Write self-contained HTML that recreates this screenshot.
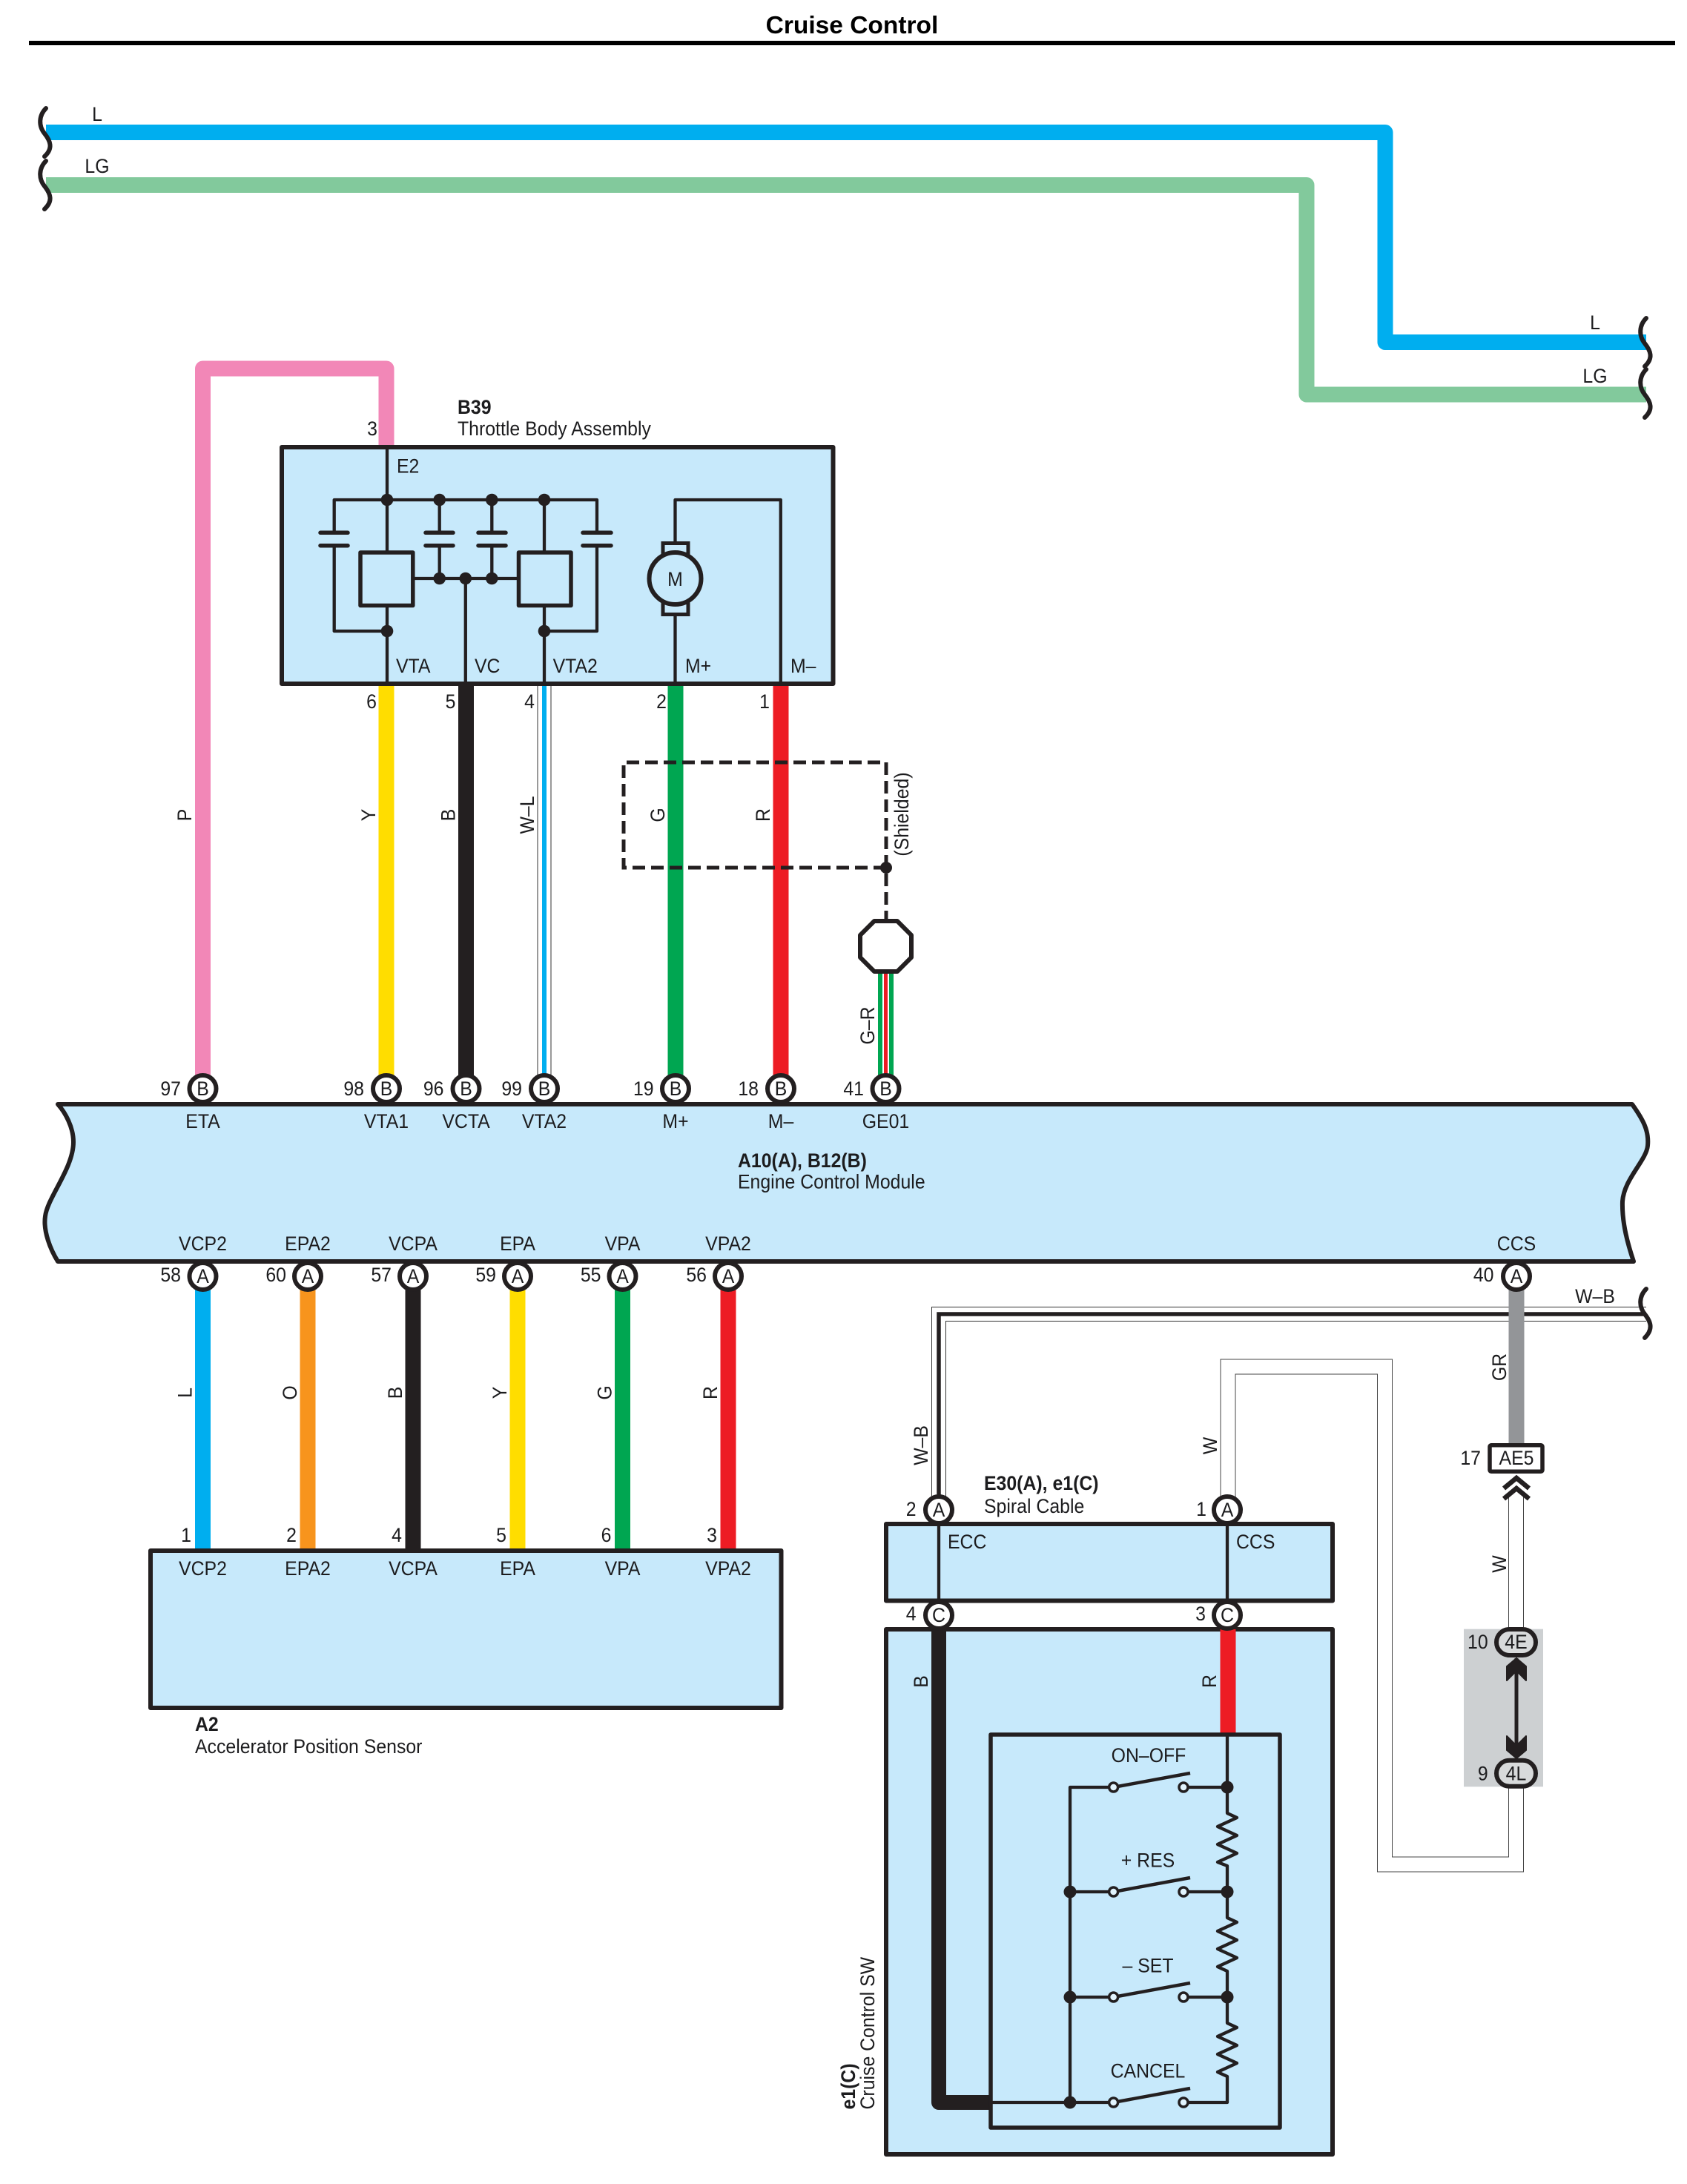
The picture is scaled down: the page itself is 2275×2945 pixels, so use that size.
<!DOCTYPE html>
<html><head><meta charset="utf-8"><style>
html,body{margin:0;padding:0;background:#fff}
svg{display:block}
text{font-family:"Liberation Sans",sans-serif;font-size:27px;fill:#1c1c1e;text-anchor:middle;transform-box:fill-box;transform-origin:50% 50%;transform:scaleX(.92)}
.l{text-anchor:start;transform-origin:0% 50%}.r{text-anchor:end;transform-origin:100% 50%}.b{font-weight:bold}
.k{fill:none;stroke:#231f20;stroke-width:4.3;stroke-linejoin:round}
.bx{fill:#c7e9fb;stroke:#231f20;stroke-width:6;stroke-linejoin:round}
.w{fill:none;stroke-width:21;stroke-linejoin:round}
.sq{fill:none;stroke:#231f20;stroke-width:6;stroke-linecap:round}
.c{fill:#fff;stroke:#231f20;stroke-width:6}
.d{fill:#231f20}
.cap{fill:none;stroke:#231f20;stroke-width:5.5;stroke-linecap:round}
.sw{fill:#e2f4fd;stroke:#231f20;stroke-width:3.5}
.arm{fill:none;stroke:#231f20;stroke-width:4.5}
</style></head><body>
<svg xmlns="http://www.w3.org/2000/svg" width="2275" height="2945" viewBox="0 0 2275 2945">
<rect width="2275" height="2945" fill="#fff"/>
<text x="1149" y="45" class="b" style="font-size:33.5px;fill:#000;transform:none">Cruise Control</text>
<rect x="39" y="55" width="2220" height="6" fill="#000"/>

<!-- top wires -->
<path class="w" stroke="#00aeef" d="M62,178.5H1868V461.500H2220"/>
<path class="w" stroke="#82c99c" d="M62,249.5H1762V532H2220"/>
<path class="sq" d="M62,146C52,156 52,170 60,180C68,190 72,200 60,211"/>
<path class="sq" d="M62,217C52,227 52,241 60,251C68,261 72,271 60,282"/>
<path class="sq" d="M2220,429C2210,439 2210,453 2218,463C2226,473 2230,483 2218,494"/>
<path class="sq" d="M2220,498C2210,508 2210,522 2218,532C2226,542 2230,552 2218,563"/>
<text x="131" y="163">L</text><text x="131" y="233">LG</text>
<text x="2151" y="444">L</text><text x="2151" y="516">LG</text>

<!-- upper wires -->
<path class="w" stroke="#f287b7" d="M273.5,1450V497H521V610"/>
<path class="w" stroke="#ffdd00" d="M521,915V1450"/>
<path class="w" stroke="#231f20" d="M628.5,915V1450"/>
<path fill="none" stroke="#333" stroke-width="19" d="M734,915V1450"/>
<path fill="none" stroke="#fff" stroke-width="17" d="M734,915V1450"/>
<path fill="none" stroke="#00aeef" stroke-width="6" d="M734,915V1450"/>
<path class="w" stroke="#00a651" d="M911,915V1450"/>
<path class="w" stroke="#ed1c24" d="M1053,915V1450"/>

<!-- shield -->
<path fill="none" stroke="#231f20" stroke-width="5" stroke-dasharray="17 8" d="M1195,1170H841V1028H1195V1240"/>
<circle class="d" cx="1195" cy="1170" r="8"/>
<path fill="none" stroke="#00a651" stroke-width="21" d="M1194.5,1310V1450"/>
<path fill="none" stroke="#fff" stroke-width="9" d="M1194.5,1310V1450"/>
<path fill="none" stroke="#ed1c24" stroke-width="5" d="M1194.5,1310V1450"/>
<path fill="#fff" stroke="#231f20" stroke-width="6" stroke-linejoin="round" d="M1179,1242H1210L1229,1261V1291L1210,1310H1179L1160,1291V1261Z"/>

<!-- B39 -->
<text x="617" y="558" class="l b">B39</text>
<text x="617" y="587" class="l">Throttle Body Assembly</text>
<text x="509" y="587" class="r">3</text>
<rect class="bx" x="380" y="603" width="743.500" height="319"/>
<path class="k" d="M522,603V745M522,819V922"/>
<path class="k" d="M450.700,718V674H805V718M450.700,736V851H522M805,736V851H734"/>
<path class="k" d="M592.700,674V718M592.700,736V780M663.300,674V718M663.300,736V780M734,674V745M734,819V922"/>
<path class="k" d="M556,780H700M627.800,780V922"/>
<path class="cap" d="M432,718.300H469M432,735.700H469M574,718.300H611M574,735.700H611M645,718.300H682M645,735.700H682M786,718.300H824M786,735.700H824"/>
<rect x="486" y="745" width="70.800" height="71.500" fill="none" stroke="#231f20" stroke-width="5.500" stroke-linejoin="round"/>
<rect x="699.500" y="745" width="70.500" height="71.500" fill="none" stroke="#231f20" stroke-width="5.500" stroke-linejoin="round"/>
<g class="d"><circle cx="522" cy="674" r="8.300"/><circle cx="592.700" cy="674" r="8.300"/><circle cx="663.300" cy="674" r="8.300"/><circle cx="734" cy="674" r="8.300"/><circle cx="592.700" cy="780" r="8.300"/><circle cx="627.800" cy="780" r="8.300"/><circle cx="663.300" cy="780" r="8.300"/><circle cx="522" cy="851" r="8.300"/><circle cx="734" cy="851" r="8.300"/></g>
<path class="k" d="M910.500,732V674H1052.800V922M910.500,830V922"/>
<rect x="894" y="732.500" width="34" height="96" fill="none" stroke="#231f20" stroke-width="5"/>
<circle cx="910.500" cy="780" r="35" fill="#c7e9fb" stroke="#231f20" stroke-width="6"/>
<text x="910.500" y="790">M</text>
<text x="535" y="637.500" class="l">E2</text>
<text x="534" y="907" class="l">VTA</text><text x="640" y="907" class="l">VC</text><text x="745.600" y="907" class="l">VTA2</text><text x="924" y="907" class="l">M+</text><text x="1066" y="907" class="l">M–</text>
<text x="508" y="955" class="r">6</text><text x="614.500" y="955" class="r">5</text><text x="721" y="955" class="r">4</text><text x="899" y="955" class="r">2</text><text x="1038" y="955" class="r">1</text>

<!-- rotated labels upper -->
<g transform="rotate(-90 258 1099)"><text x="258" y="1099">P</text></g>
<g transform="rotate(-90 506 1099)"><text x="506" y="1099">Y</text></g>
<g transform="rotate(-90 613.500 1099)"><text x="613.500" y="1099">B</text></g>
<g transform="rotate(-90 720 1099)"><text x="720" y="1099">W–L</text></g>
<g transform="rotate(-90 896 1099)"><text x="896" y="1099">G</text></g>
<g transform="rotate(-90 1038 1099)"><text x="1038" y="1099">R</text></g>
<g transform="rotate(-90 1225 1098)"><text x="1225" y="1098">(Shielded)</text></g>
<g transform="rotate(-90 1179 1383)"><text x="1179" y="1383">G–R</text></g>

<!-- lower wires -->
<path class="w" stroke="#00aeef" d="M273.500,1735V2092"/>
<path class="w" stroke="#f7941d" d="M415,1735V2092"/>
<path class="w" stroke="#231f20" d="M557,1735V2092"/>
<path class="w" stroke="#ffdd00" d="M698,1735V2092"/>
<path class="w" stroke="#00a651" d="M839.500,1735V2092"/>
<path class="w" stroke="#ed1c24" d="M982,1735V2092"/>

<!-- ECM -->
<path class="bx" d="M78,1489H2201C2216,1510 2224,1525 2222,1545C2220,1565 2190,1590 2188,1620C2187,1650 2196,1680 2203,1701H78C68,1685 58,1660 61,1640C64,1615 99,1575 99,1540C99,1520 88,1500 78,1489Z"/>
<g>
<circle class="c" cx="273.500" cy="1468" r="18"/><circle class="c" cx="521" cy="1468" r="18"/><circle class="c" cx="628.500" cy="1468" r="18"/><circle class="c" cx="734" cy="1468" r="18"/><circle class="c" cx="911" cy="1468" r="18"/><circle class="c" cx="1053" cy="1468" r="18"/><circle class="c" cx="1194.500" cy="1468" r="18"/>
<circle class="c" cx="273.500" cy="1721" r="18"/><circle class="c" cx="415" cy="1721" r="18"/><circle class="c" cx="557" cy="1721" r="18"/><circle class="c" cx="698" cy="1721" r="18"/><circle class="c" cx="839.500" cy="1721" r="18"/><circle class="c" cx="982" cy="1721" r="18"/>
</g>
<text x="273.500" y="1477">B</text><text x="521" y="1477">B</text><text x="628.500" y="1477">B</text><text x="734" y="1477">B</text><text x="911" y="1477">B</text><text x="1053" y="1477">B</text><text x="1194.500" y="1477">B</text>
<text x="244" y="1477" class="r">97</text><text x="491" y="1477" class="r">98</text><text x="598.500" y="1477" class="r">96</text><text x="704" y="1477" class="r">99</text><text x="881.600" y="1477" class="r">19</text><text x="1023" y="1477" class="r">18</text><text x="1165" y="1477" class="r">41</text>
<text x="273.500" y="1521">ETA</text><text x="521" y="1521">VTA1</text><text x="628.500" y="1521">VCTA</text><text x="734" y="1521">VTA2</text><text x="911" y="1521">M+</text><text x="1053" y="1521">M–</text><text x="1194.500" y="1521">GE01</text>
<text x="995" y="1574" class="l b">A10(A), B12(B)</text>
<text x="995" y="1602.500" class="l">Engine Control Module</text>
<text x="273.500" y="1686">VCP2</text><text x="415" y="1686">EPA2</text><text x="557" y="1686">VCPA</text><text x="698" y="1686">EPA</text><text x="839.500" y="1686">VPA</text><text x="982" y="1686">VPA2</text><text x="2045" y="1686">CCS</text>
<text x="273.500" y="1730">A</text><text x="415" y="1730">A</text><text x="557" y="1730">A</text><text x="698" y="1730">A</text><text x="839.500" y="1730">A</text><text x="982" y="1730">A</text>
<text x="244" y="1728" class="r">58</text><text x="386" y="1728" class="r">60</text><text x="528" y="1728" class="r">57</text><text x="669" y="1728" class="r">59</text><text x="810.500" y="1728" class="r">55</text><text x="953" y="1728" class="r">56</text>

<!-- rotated labels lower -->
<g transform="rotate(-90 258.500 1878)"><text x="258.500" y="1878">L</text></g>
<g transform="rotate(-90 400 1878)"><text x="400" y="1878">O</text></g>
<g transform="rotate(-90 542 1878)"><text x="542" y="1878">B</text></g>
<g transform="rotate(-90 683 1878)"><text x="683" y="1878">Y</text></g>
<g transform="rotate(-90 824.500 1878)"><text x="824.500" y="1878">G</text></g>
<g transform="rotate(-90 967 1878)"><text x="967" y="1878">R</text></g>

<!-- A2 -->
<rect class="bx" x="203" y="2091" width="850.500" height="212"/>
<text x="258" y="2079" class="r">1</text><text x="400" y="2079" class="r">2</text><text x="542" y="2079" class="r">4</text><text x="683" y="2079" class="r">5</text><text x="824.500" y="2079" class="r">6</text><text x="967" y="2079" class="r">3</text>
<text x="273.500" y="2124">VCP2</text><text x="415" y="2124">EPA2</text><text x="557" y="2124">VCPA</text><text x="698" y="2124">EPA</text><text x="839.500" y="2124">VPA</text><text x="982" y="2124">VPA2</text>
<text x="263" y="2334" class="l b">A2</text>
<text x="263" y="2364" class="l">Accelerator Position Sensor</text>

<!-- W-B cable -->
<path fill="none" stroke="#333" stroke-width="20" d="M2220,1772H1266V2025"/>
<path fill="none" stroke="#fff" stroke-width="18" d="M2220,1772H1266V2025"/>
<path fill="none" stroke="#231f20" stroke-width="5.500" d="M2220,1772H1266V2025"/>
<path class="sq" d="M2220,1738C2210,1748 2210,1762 2218,1772C2226,1782 2230,1792 2218,1804"/>
<text x="2151" y="1757">W–B</text>

<!-- W cable -->
<path fill="none" stroke="#444" stroke-width="21" stroke-linejoin="miter" d="M1656,2025V1843H1867.500V2514H2044.500V2405"/>
<path fill="none" stroke="#fff" stroke-width="19" stroke-linejoin="miter" d="M1656,2025V1843H1867.500V2514H2044.500V2405"/>

<!-- grey box -->
<rect x="1974" y="2196.700" width="107" height="212.600" fill="#cdd0d2"/>
<path fill="none" stroke="#444" stroke-width="21" d="M2044.500,2015V2200"/>
<path fill="none" stroke="#fff" stroke-width="19" d="M2044.500,2015V2200"/>
<path fill="none" stroke="#939598" stroke-width="21" d="M2045,1738V1950"/>

<circle class="c" cx="2045" cy="1721" r="18"/>
<text x="2045" y="1730">A</text>
<text x="2014.500" y="1728" class="r">40</text>
<rect x="2009" y="1948.700" width="71" height="35.600" rx="2" fill="#fff" stroke="#231f20" stroke-width="5.500" stroke-linejoin="round"/>
<text x="2045" y="1975">AE5</text>
<text x="1997" y="1975" class="r">17</text>
<path d="M2028,2007L2045,1993L2062,2007M2028,2021L2045,2007L2062,2021" fill="none" stroke="#231f20" stroke-width="6.500"/>

<path fill="none" stroke="#231f20" stroke-width="5" d="M2045,2236V2370"/>
<path class="d" stroke="#231f20" stroke-width="2" stroke-linejoin="round" d="M2045,2236L2058,2247V2266L2045,2253L2032,2266V2247Z"/>
<path class="d" stroke="#231f20" stroke-width="2" stroke-linejoin="round" d="M2045,2371L2058,2360V2341L2045,2354L2032,2341V2360Z"/>
<rect x="2018" y="2197" width="53" height="35" rx="17.500" fill="#d8dadb" stroke="#231f20" stroke-width="6"/>
<rect x="2018" y="2373.700" width="53" height="35" rx="17.500" fill="#d8dadb" stroke="#231f20" stroke-width="6"/>
<text x="2044.500" y="2223">4E</text><text x="2044.500" y="2400.500">4L</text>
<text x="2006.700" y="2223" class="r">10</text><text x="2006.700" y="2400.500" class="r">9</text>

<g transform="rotate(-90 2031 1843.500)"><text x="2031" y="1843.500">GR</text></g>
<g transform="rotate(-90 2031 2109)"><text x="2031" y="2109">W</text></g>
<g transform="rotate(-90 1251 1949)"><text x="1251" y="1949">W–B</text></g>
<g transform="rotate(-90 1641 1949.500)"><text x="1641" y="1949.500">W</text></g>

<!-- spiral cable -->
<text x="1327" y="2009" class="l b">E30(A), e1(C)</text>
<text x="1327" y="2040" class="l">Spiral Cable</text>
<rect class="bx" x="1195" y="2055" width="602" height="103.500"/>
<path class="k" d="M1266,2055V2158M1655,2055V2158"/>
<text x="1278" y="2088" class="l">ECC</text><text x="1667" y="2088" class="l">CCS</text>

<!-- lower box -->
<rect class="bx" x="1195" y="2197" width="602" height="708"/>
<path fill="none" stroke="#231f20" stroke-width="20" stroke-linejoin="round" d="M1266,2197V2835H1336"/>
<path fill="none" stroke="#ed1c24" stroke-width="21" d="M1656,2197V2339"/>
<circle class="c" cx="1266" cy="2036" r="18"/><circle class="c" cx="1655" cy="2036" r="18"/><circle class="c" cx="1266" cy="2178" r="18"/><circle class="c" cx="1655" cy="2178" r="18"/>
<text x="1266" y="2045">A</text><text x="1655" y="2045">A</text><text x="1266" y="2187">C</text><text x="1655" y="2187">C</text>
<text x="1235.600" y="2044" class="r">2</text><text x="1627" y="2044" class="r">1</text><text x="1235.600" y="2185" class="r">4</text><text x="1626" y="2185" class="r">3</text>
<g transform="rotate(-90 1251 2267.500)"><text x="1251" y="2267.500">B</text></g>
<g transform="rotate(-90 1640 2267)"><text x="1640" y="2267">R</text></g>
<g transform="rotate(-90 1179 2844.500)"><text x="1179" y="2844.500" class="l">Cruise Control SW</text></g>
<g transform="rotate(-90 1153 2844.500)"><text x="1153" y="2844.500" class="l b">e1(C)</text></g>

<!-- inner switch box -->
<rect x="1336" y="2339" width="390" height="530" fill="#c7e9fb" stroke="#231f20" stroke-width="5.500" stroke-linejoin="round"/>
<path class="k" d="M1336,2835H1495M1602,2835H1655V2800L1642,2794L1668,2782L1642,2770L1668,2758L1642,2746L1668,2734L1655,2728V2693"/>
<path class="k" d="M1655,2339V2445L1668,2451L1642,2463L1668,2475L1642,2487L1668,2499L1642,2511L1655,2516V2586L1668,2592L1642,2604L1668,2616L1642,2628L1668,2640L1642,2652L1655,2658V2693"/>
<path class="k" d="M1495,2410H1443V2835M1443,2551H1495M1443,2693H1495M1602,2410H1655M1602,2551H1655M1602,2693H1655"/>
<g class="d"><circle cx="1655" cy="2410" r="8.500"/><circle cx="1655" cy="2551" r="8.500"/><circle cx="1655" cy="2693" r="8.500"/><circle cx="1443" cy="2551" r="8.500"/><circle cx="1443" cy="2693" r="8.500"/><circle cx="1443" cy="2835" r="8.500"/></g>
<path class="arm" d="M1507,2409L1605,2391M1507,2550L1605,2532M1507,2692L1605,2674M1507,2834L1605,2816"/>
<circle class="sw" cx="1501.600" cy="2410" r="6"/><circle class="sw" cx="1596" cy="2410" r="6"/>
<circle class="sw" cx="1501.600" cy="2551" r="6"/><circle class="sw" cx="1596" cy="2551" r="6"/>
<circle class="sw" cx="1501.600" cy="2693" r="6"/><circle class="sw" cx="1596" cy="2693" r="6"/>
<circle class="sw" cx="1501.600" cy="2835" r="6"/><circle class="sw" cx="1596" cy="2835" r="6"/>
<text x="1549" y="2376">ON–OFF</text><text x="1548" y="2517.500">+ RES</text><text x="1548" y="2659.500">– SET</text><text x="1548" y="2801.500">CANCEL</text>
</svg>
</body></html>
